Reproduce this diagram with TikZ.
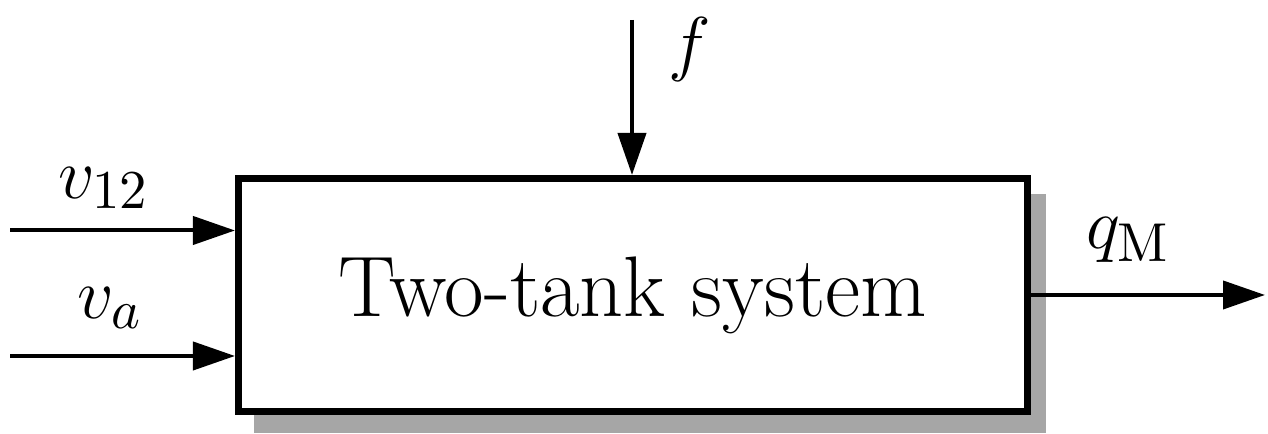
\documentclass[tikz,border=0pt]{standalone}
\usetikzlibrary{arrows.meta}
\begin{document}
\begin{tikzpicture}[x=0.2pt,y=-0.2pt,
  sig/.style={line width=0.8pt,-{Triangle[length=8.4pt,width=5.6pt]}},
  lbl/.style={font=\fontsize{15.45}{18}\selectfont,inner sep=0pt},
  blockbox/.style={draw,line width=1.4pt,fill=white,minimum width=157.7pt,minimum height=46.7pt,inner sep=0pt,font=\fontsize{17.2}{20}\selectfont}]
\useasboundingbox (0,0) rectangle (1268,434);
\fill[black!35] (254,194) rectangle (1046,433);
\node[blockbox] (sys) at (632.75,295.25) {Two-tank system};
\coordinate (in1) at (10,230.5);
\coordinate (in2) at (10,356);
\coordinate (top) at (632,20);
\coordinate (out) at (1265,295);
\draw[sig] (in1) -- (in1 -| sys.west);
\draw[sig] (in2) -- (in2 -| sys.west);
\draw[sig] (top) -- (top |- sys.north);
\draw[sig] (out -| sys.east) -- (out);
\node[lbl] (l1) at (104,188) {$v_{12}$};
\node[lbl] (l2) at (110,308) {$v_a$};
\node[lbl] (l3) at (690,50) {$f$};
\node[lbl] (l4) at (1128,240) {$q_{\mathrm{M}}$};
\end{tikzpicture}
\end{document}
